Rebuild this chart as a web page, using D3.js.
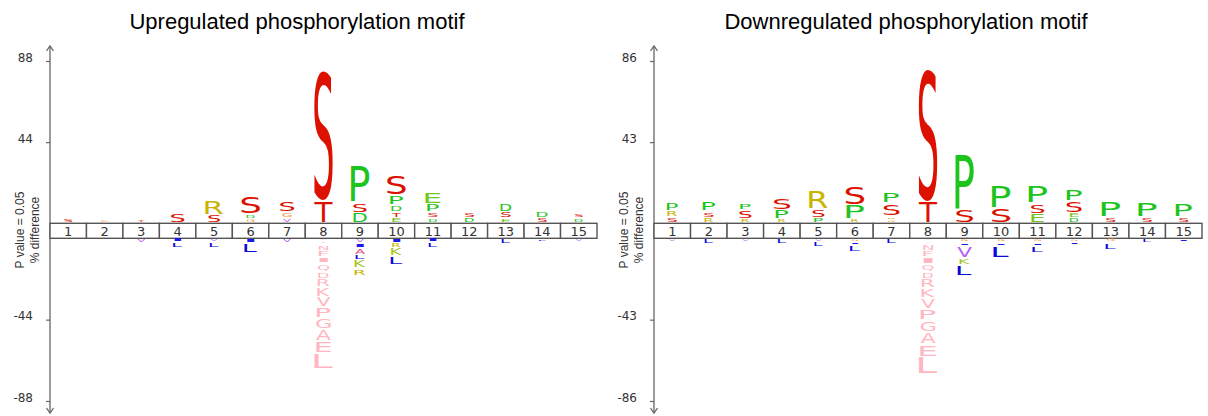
<!DOCTYPE html>
<html><head><meta charset="utf-8">
<script src="https://cdn.jsdelivr.net/npm/d3@7"></script>
<style>body{margin:0;background:#fff}</style>
</head><body>
<svg id="chart" width="1208" height="416"></svg>
<script>
// ---------- data ----------
const positions = [1,2,3,4,5,6,7,8,9,10,11,12,13,14,15];
const titles = ["Upregulated phosphorylation motif", "Downregulated phosphorylation motif"];
const upTicks = [88, 44, -44, -88];
const downTicks = [86, 43, -43, -86];
const fixedPosition = 8;

// letters listed from the central bar outward, values in % difference
const upPosLetters = [["S"],["G"],["T"],["S"],["S","R"],["G","D","S"],["V","G","S"],["T","S"],["D","S","P"],["E","T","D","P","S"],["D","S","P","E"],["D","S"],["E","S","D"],["S","D"],["D","S"]];
const upPosValues  = [[2.7],[2.0],[2.0],[5.6],[4.7,8.0],[2.4,2.7,9.6],[2.7,3.4,6.0],[12.0,70.6],[5.6,5.6,20.5],[2.9,3.3,3.8,5.3,11.0],[2.6,3.3,4.6,6.5],[3.1,3.2],[2.6,3.6,4.2],[3.1,4.1],[2.6,2.6]];
const upNegLetters = [[],[],["V"],["I","L"],["V","L"],["I","L"],["V"],["W","Y","N","F","I","Q","D","R","K","V","P","G","A","E","L"],["V","I","A","L","K","R"],["I","R","K","L"],["I","L"],[],["L"],["L"],["V"]];
const upNegValues  = [[],[],[2.7],[2.1,3.3],[2.2,3.2],[2.6,5.2],[2.7],[1.5,1.7,3.4,3.6,3.2,4.6,3.8,4.8,5.0,5.7,5.7,6.3,6.4,6.3,8.6],[2.4,2.6,3.8,3.2,4.2,4.2],[2.6,2.8,4.2,4.7],[2.2,3.0],[],[2.9],[2.0],[2.0]];

const downPosLetters = [["S","R","P"],["R","S","P"],["R","S","P"],["R","P","S"],["P","S","R"],["R","P","S"],["G","R","S","P"],["T","S"],["S","P"],["S","P"],["E","S","P"],["D","E","S","P"],["S","P"],["S","P"],["S","P"]];
const downPosValues  = [[3.2,3.5,4.2],[2.9,3.4,5.0],[2.4,4.8,3.9],[2.1,5.0,7.0],[3.0,4.8,10.2],[2.1,7.7,10.0],[1.9,2.0,6.8,6.2],[11.3,71.0],[7.3,29.4],[8.1,11.9],[5.0,5.4,9.5],[2.8,2.8,6.4,6.4],[3.3,9.0],[3.3,8.1],[3.2,7.0]];
const downNegLetters = [["V"],["L"],["V"],["L"],["V","L"],["G","I","L"],["L"],["W","Y","N","F","I","Q","D","R","K","V","P","G","A","E","L"],["G","I","V","K","L"],["G","I","L"],["G","I","L"],["G","I"],["G","L"],["L"],["I"]];
const downNegValues  = [[1.8],[2.8],[1.8],[2.8],[1.8,2.8],[1.8,1.6,3.7],[2.8],[1.5,1.5,3.5,3.5,3.5,4.4,3.5,4.9,5.3,5.6,6.2,6.2,6.2,6.7,9.1],[2.0,2.0,6.2,3.8,5.8],[2.0,2.0,6.6],[2.0,2.0,4.0],[1.8,1.6],[2.2,3.8],[2.3],[1.8]];

// ---------- styles ----------
const letterColor = {S:"#dd1100",T:"#dd1100",P:"#1ec41e",D:"#1ec41e",E:"#72c81e",R:"#c8b400",K:"#a4c21a",
  L:"#0a0ad8",I:"#1a1ae8",V:"#b060ee",G:"#ff9640",A:"#e04a86",N:"#ffb6c1",F:"#ffb6c1",Q:"#ffb6c1",W:"#ffb6c1",Y:"#ffb6c1"};
const depletedFixedColor = "#ffb6c1";
const FONT = "DejaVu Sans";

const svg = d3.select("#chart");
const ctx = document.createElement("canvas").getContext("2d");
ctx.font = `100px '${FONT}'`;
const metricCache = {};
function metrics(ch){
  if(!metricCache[ch]){
    const m = ctx.measureText(ch);
    metricCache[ch] = {L:m.actualBoundingBoxLeft, R:m.actualBoundingBoxRight, A:m.actualBoundingBoxAscent, D:m.actualBoundingBoxDescent};
  }
  return metricCache[ch];
}
function drawLetter(g, ch, cx, yTop, yBot, color){
  const gh = Math.max(0.6, (yBot - yTop) - 2);
  const y0 = (yTop + yBot)/2 - gh/2;
  const w = Math.min(18.5, 5 + gh);
  const x0 = cx - w/2;
  const m = metrics(ch);
  const sx = w/(m.L + m.R), sy = gh/(m.A + m.D);
  g.append("text").text(ch)
    .attr("font-family", FONT).attr("font-size", 100).attr("fill", color)
    .attr("transform", `translate(${x0 + m.L*sx},${y0 + m.A*sy}) scale(${sx},${sy})`);
}

function panel(cfg){
  const g = svg.append("g");
  const x = d3.scaleBand().domain(positions).range([cfg.x0, cfg.x1]);
  const yPos = d3.scaleLinear().domain([0, cfg.max]).range([223.3, 61]);
  const yNeg = d3.scaleLinear().domain([0, -cfg.max]).range([238.3, 401]);

  // title
  g.append("text").attr("x", cfg.titleX).attr("y", 29).attr("text-anchor","middle")
    .attr("font-family","Liberation Sans, Arial, sans-serif").attr("font-size", 22).attr("fill","#000").text(cfg.title);

  // axis line with arrows
  const ax = g.append("g").attr("stroke","#666").attr("fill","none").attr("stroke-width",1.3);
  ax.append("line").attr("x1",cfg.x0).attr("x2",cfg.x0).attr("y1",46).attr("y2",413);
  ax.append("path").attr("d",`M${cfg.x0-3.5},${51} L${cfg.x0},${46} L${cfg.x0+3.5},${51}`);
  ax.append("path").attr("d",`M${cfg.x0-3.5},${408} L${cfg.x0},${413} L${cfg.x0+3.5},${408}`);

  const styleAxis = sel => {
    sel.select(".domain").remove();
    sel.selectAll(".tick line").attr("stroke","#666").attr("stroke-width",1.2);
    sel.selectAll(".tick text").attr("font-family",FONT).attr("font-size",12).attr("fill","#333").attr("dy","0.02em");
  };
  const fmt = d => String(d);
  g.append("g").attr("transform",`translate(${cfg.x0},0)`)
    .call(d3.axisLeft(yPos).tickValues(cfg.ticks.filter(t=>t>0)).tickFormat(fmt).tickSize(4).tickPadding(13)).call(styleAxis);
  g.append("g").attr("transform",`translate(${cfg.x0},0)`)
    .call(d3.axisLeft(yNeg).tickValues(cfg.ticks.filter(t=>t<0)).tickFormat(fmt).tickSize(4).tickPadding(13)).call(styleAxis);

  // y label
  const lab = [["P value = 0.05", -26], ["% difference", -11]];
  lab.forEach(([t,dx]) => {
    g.append("text").attr("transform",`translate(${cfg.x0+dx},230) rotate(-90)`).attr("text-anchor","middle")
      .attr("font-family","Liberation Sans, Arial, sans-serif").attr("font-size",12).attr("fill","#333").text(t);
  });

  // position box
  const box = g.append("g");
  box.selectAll("rect").data(positions).join("rect")
    .attr("x", d=>x(d)).attr("y",223.3).attr("width",x.bandwidth()).attr("height",15)
    .attr("fill","#fff").attr("stroke","#555").attr("stroke-width",1.4);
  box.selectAll("text").data(positions).join("text")
    .attr("x", d=>x(d)+x.bandwidth()/2).attr("y",235.5).attr("text-anchor","middle")
    .attr("font-family",FONT).attr("font-size",13).attr("fill","#333").text(d=>d);

  // letters
  const lg = g.append("g");
  positions.forEach((p,i) => {
    const cx = x(p) + x.bandwidth()/2;
    let cum = 0;
    cfg.posL[i].forEach((ch,j) => {
      const v = cfg.posV[i][j];
      drawLetter(lg, ch, cx, yPos(cum+v), yPos(cum), letterColor[ch]);
      cum += v;
    });
    cum = 0;
    cfg.negL[i].forEach((ch,j) => {
      const v = cfg.negV[i][j];
      const col = p === fixedPosition ? depletedFixedColor : letterColor[ch];
      drawLetter(lg, ch, cx, yNeg(-cum), yNeg(-(cum+v)), col);
      cum += v;
    });
  });
}

panel({x0:50, x1:597, max:88, ticks:upTicks, title:titles[0], titleX:297,
  posL:upPosLetters, posV:upPosValues, negL:upNegLetters, negV:upNegValues});
panel({x0:654, x1:1202, max:86, ticks:downTicks, title:titles[1], titleX:906,
  posL:downPosLetters, posV:downPosValues, negL:downNegLetters, negV:downNegValues});
</script>
</body></html>
